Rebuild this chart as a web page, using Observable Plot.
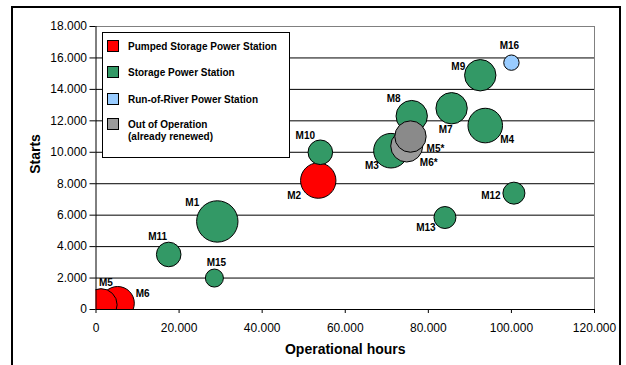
<!DOCTYPE html>
<html>
<head>
<meta charset="utf-8">
<script src="https://cdn.jsdelivr.net/npm/d3@7"></script>
<script src="https://cdn.jsdelivr.net/npm/@observablehq/plot@0.6"></script>
<style>
  html, body { margin: 0; padding: 0; background: #fff; overflow: hidden; }
  #wrap { position: relative; width: 626px; height: 365px; font-family: Arial, "Liberation Sans", sans-serif; }
  #outer { position: absolute; left: 11px; top: 6px; width: 606px; height: 420px; border: 2px solid #000; pointer-events: none; }
  #legend { position: absolute; left: 102px; top: 32px; width: 186px; height: 124px; border: 1px solid #000; background: #fff; }
  .sw { position: absolute; left: 4px; width: 12px; height: 12px; border: 1px solid #000; box-sizing: border-box; }
  .lt { position: absolute; left: 25px; font-size: 10px; font-weight: bold; color: #000; line-height: 12.5px; white-space: nowrap; }
</style>
</head>
<body>
<div id="wrap">
  <div id="chart"></div>
  <div id="outer"></div>
  <div id="legend"></div>
</div>
<script>
// ---- data ----
const names  = ["M1", "M2", "M3", "M4", "M5", "M6", "M7", "M8", "M9", "M10", "M11", "M12", "M13", "M15", "M16", "M5*", "M6*"];
const hours  = [29200, 53500, 71000, 93700, 1200, 5200, 85600, 76000, 92500, 54000, 17500, 100600, 84000, 28500, 100000, 75700, 74800];
const starts = [5600, 8200, 10100, 11700, 300, 400, 12800, 12300, 14900, 10000, 3500, 7400, 5850, 2000, 15700, 11000, 10400];
const sizes  = [428, 313, 299, 299, 260, 279, 246, 246, 246, 151, 151, 121, 121, 81, 59, 246, 256];
const types  = ["storage", "pumped", "storage", "storage", "pumped", "pumped", "storage", "storage", "storage", "storage", "storage", "storage", "storage", "storage", "river", "out", "out"];

const typeKeys   = ["pumped", "storage", "river", "out"];
const typeLabels = ["Pumped Storage Power Station", "Storage Power Station", "Run-of-River Power Station", "Out of Operation<br>(already renewed)"];
const xTicks = [0, 20000, 40000, 60000, 80000, 100000, 120000];
const yTicks = [0, 2000, 4000, 6000, 8000, 10000, 12000, 14000, 16000, 18000];

// ---- styles / layout (kept separate from data) ----
const typeColors = {pumped: "#ff0000", storage: "#339966", river: "#99ccff", out: "#9a9a9a"};
const fillOverride = {"M5*": "#8a8a8a"};
const drawOrder = ["storage", "pumped", "river", "out"];
const labelOffsets = {
  "M1": [-25, -19], "M2": [-24, 15], "M3": [-19, 15], "M4": [22, 14], "M5": [5, -22], "M6": [25, -9],
  "M7": [-6, 22], "M8": [-18, -17], "M9": [-22, -8], "M10": [-15, -16], "M11": [-11, -18], "M12": [-23, 3],
  "M13": [-19, 10], "M15": [2, -15], "M16": [-2, -17], "M5*": [25, 12], "M6*": [22, 17]
};

const data = names.map((n, i) => ({name: n, hours: hours[i], starts: starts[i], size: sizes[i], type: types[i]}))
  .sort((a, b) => drawOrder.indexOf(a.type) - drawOrder.indexOf(b.type));

const loc = d3.formatLocale({decimal: ",", thousands: ".", grouping: [3], currency: ["", ""]});
const fmt = loc.format(",d");
const font = "Arial, 'Liberation Sans', sans-serif";

const labelMarks = data.map(d => Plot.text([d], {
  x: "hours", y: "starts", text: "name",
  dx: labelOffsets[d.name][0], dy: labelOffsets[d.name][1],
  fontSize: 10, fontWeight: "bold", fill: "#000", lineAnchor: "middle", textAnchor: "middle"
}));

const chart = Plot.plot({
  width: 626, height: 365,
  marginLeft: 95.5, marginRight: 32, marginTop: 26, marginBottom: 56,
  style: {fontFamily: font, fontSize: "12px", background: "transparent", color: "#000", overflow: "visible"},
  x: {domain: [0, 120000], label: null},
  y: {domain: [0, 18000], label: null},
  r: {type: "sqrt", domain: [0, 400], range: [0, 20]},
  marks: [
    Plot.ruleY(yTicks.filter(v => v > 0 && v < 18000), {stroke: "#000", strokeWidth: 1}),
    Plot.ruleY([18000], {stroke: "#808080", strokeWidth: 1}),
    Plot.ruleX([120000], {stroke: "#808080", strokeWidth: 1}),
    Plot.dot(data, {
      x: "hours", y: "starts", r: "size",
      fill: d => fillOverride[d.name] ?? typeColors[d.type],
      stroke: "#000", strokeWidth: 1, fillOpacity: 1, clip: true
    }),
    Plot.ruleY([0], {stroke: "#000"}),
    Plot.ruleX([0], {stroke: "#000"}),
    Plot.axisX({ticks: xTicks, tickFormat: fmt, tickSize: 4, tickPadding: 10, fontSize: 12, label: null}),
    Plot.axisY({ticks: yTicks, tickFormat: fmt, tickSize: 6, tickPadding: 3, fontSize: 12, label: null}),
    ...labelMarks,
    Plot.text(["Starts"], {frameAnchor: "left", dx: -60, dy: -14, rotate: -90, fontSize: 14, fontWeight: "bold", fill: "#000", lineAnchor: "middle", textAnchor: "middle"}),
    Plot.text(["Operational hours"], {frameAnchor: "bottom", dy: 40, fontSize: 14, fontWeight: "bold", fill: "#000", lineAnchor: "middle", textAnchor: "middle"})
  ]
});
document.getElementById("chart").appendChild(chart);

// legend
const legend = document.getElementById("legend");
const swTops = [7, 33, 60, 85];
const txTops = [7.5, 33.5, 60.5, 85.5];
typeKeys.forEach((k, i) => {
  const sw = document.createElement("div");
  sw.className = "sw";
  sw.style.top = swTops[i] + "px";
  sw.style.background = typeColors[k];
  legend.appendChild(sw);
  const t = document.createElement("div");
  t.className = "lt";
  t.style.top = txTops[i] + "px";
  t.innerHTML = typeLabels[i];
  legend.appendChild(t);
});
</script>
</body>
</html>
